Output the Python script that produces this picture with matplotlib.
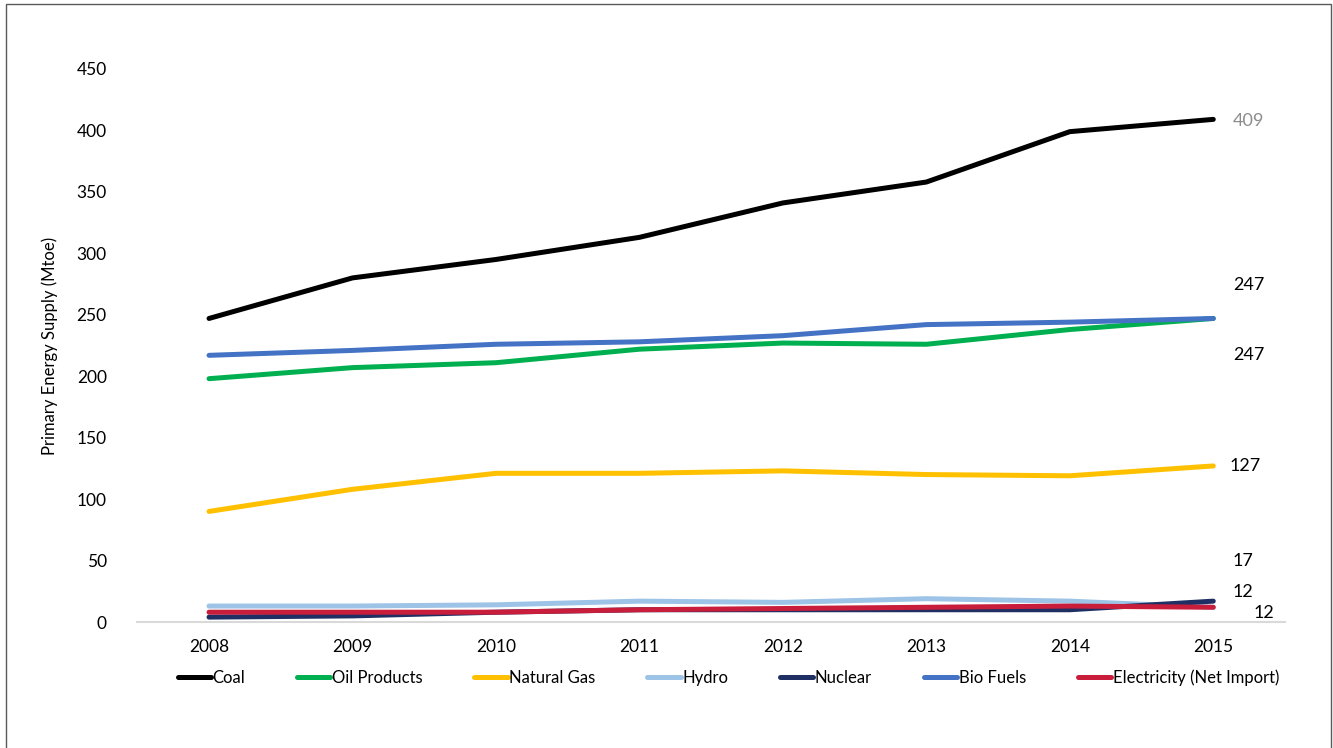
import matplotlib
matplotlib.use("Agg")
import matplotlib.pyplot as plt
from matplotlib.patches import Rectangle

plt.rcParams['font.family'] = ['Lato', 'DejaVu Sans']

years = [2008, 2009, 2010, 2011, 2012, 2013, 2014, 2015]

coal = [247, 280, 295, 313, 341, 358, 399, 409]
oil_products = [198, 207, 211, 222, 227, 226, 238, 247]
natural_gas = [90, 108, 121, 121, 123, 120, 119, 127]
hydro = [13, 13, 14, 17, 16, 19, 17, 12]
nuclear = [4, 5, 8, 10, 10, 10, 10, 17]
bio_fuels = [217, 221, 226, 228, 233, 242, 244, 247]
electricity = [8, 8, 8, 10, 11, 12, 13, 12]

# name, values, colour, end-label offset in points (dx, dy), label colour
series = [
    ("Coal", coal, "#000000", (14, -1), "#8c8c8c"),
    ("Oil Products", oil_products, "#00B050", (14, -26), "#000000"),
    ("Natural Gas", natural_gas, "#FFC000", (12, 0), "#000000"),
    ("Hydro", hydro, "#9DC3E6", (14, 11), "#000000"),
    ("Nuclear", nuclear, "#1F2F63", (14, 29), "#000000"),
    ("Bio Fuels", bio_fuels, "#4472C4", (14, 24), "#000000"),
    ("Electricity (Net Import)", electricity, "#C81E3C", (29, -4), "#000000"),
]

fig = plt.figure(figsize=(13.33, 7.48), dpi=100)
ax = fig.add_axes([0.103, 0.1684, 0.861, 0.7394])

draw_order = [3, 4, 6, 2, 1, 5, 0]
for i in draw_order:
    name, vals, col, off, lcol = series[i]
    ax.plot(years, vals, color=col, lw=3.6, solid_capstyle='round',
            solid_joinstyle='round', label=name, clip_on=False, zorder=3 + i * 0.1)
    ax.annotate(str(vals[-1]), xy=(years[-1], vals[-1]), xytext=off,
                textcoords='offset points', ha='left', va='center',
                fontsize=13, color=lcol)

ax.set_xlim(2007.5, 2015.5)
ax.set_ylim(0, 450)
ax.set_xticks(years)
ax.set_yticks(range(0, 451, 50))
ax.tick_params(axis='both', length=0, labelsize=12.5)
ax.tick_params(axis='x', pad=12)
ax.tick_params(axis='y', pad=22)
for s in ['top', 'right', 'left']:
    ax.spines[s].set_visible(False)
ax.spines['bottom'].set_color('#d9d9d9')
ax.spines['bottom'].set_linewidth(1.5)
ax.set_ylabel('Primary Energy Supply (Mtoe)', fontsize=12, labelpad=13)

handles, labels = ax.get_legend_handles_labels()
order = {s[0]: k for k, s in enumerate(series)}
pairs = sorted(zip(handles, labels), key=lambda p: order[p[1]])
ax.legend([p[0] for p in pairs], [p[1] for p in pairs], ncol=7,
          loc='center', bbox_to_anchor=(0.515, -0.101), frameon=False,
          fontsize=12, handlelength=2.0, handletextpad=0.1,
          columnspacing=3.1)

fig.patches.append(Rectangle((0.0045, -0.05), 0.994, 1.045, transform=fig.transFigure,
                             fill=False, edgecolor='#595959', lw=1))

fig.savefig('out.png', dpi=100)
